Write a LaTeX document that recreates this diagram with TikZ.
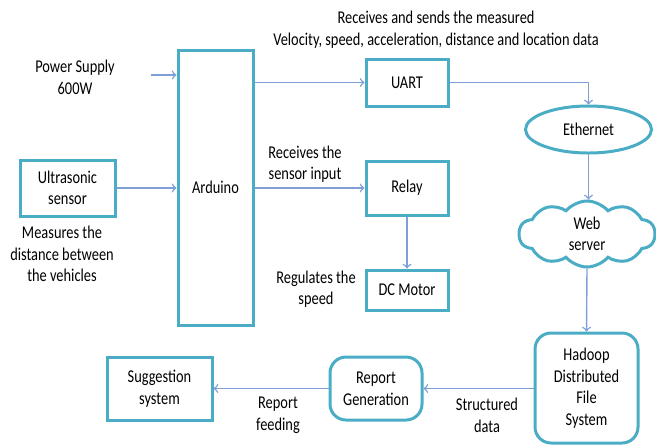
\documentclass[tikz,border=0pt]{standalone}
\usepackage{fontspec}
\setmainfont[FakeStretch=0.8]{Carlito}
\usetikzlibrary{arrows,shapes,shapes.symbols}

\definecolor{boxline}{HTML}{4BACC6}
\definecolor{arrline}{HTML}{7F9FD6}

\begin{document}
\begin{tikzpicture}
          [x=0.5pt,y=-0.5pt,
          font=\fontsize{9}{10.8}\selectfont,
          block/.style={rectangle,draw=boxline,line width=1.5pt,align=center,inner sep=2pt},
          roundblock/.style={block,rounded corners=8pt},
          note/.style={align=center,inner sep=0pt},
          link/.style={->,draw=arrline,line width=0.7pt}]
          \useasboundingbox (0,0) rectangle (656,446);
          % controller and its inputs
          \node[block,minimum width=37.5pt,minimum height=137.5pt] (ard) at (215.5,187.5) {Arduino};
          \node[block,minimum width=47.5pt,minimum height=28pt] (ultra) at (67.5,188) {Ultrasonic\\sensor};
          \node[note] (pow) at (75,77.5) {Power Supply\\600W};
          \node[note] (meas) at (62,254) {Measures the\\distance between\\the vehicles};
          % outputs of the controller
          \node[block,minimum width=41pt,minimum height=23.5pt] (uart) at (407,82.5) {UART};
          \node[block,minimum width=41pt,minimum height=27pt] (relay) at (407,188) {Relay};
          \node[block,minimum width=41pt,minimum height=20pt] (motor) at (407,290) {DC Motor};
          \node[note] (sends) at (436,29.5) {Receives and sends the measured\\Velocity, speed, acceleration, distance and location data};
          \node[note] (input) at (305,164) {Receives the\\sensor input};
          \node[note] (reg) at (316,289) {Regulates the\\speed};
          % network side
          \node[ellipse,draw=boxline,line width=1.5pt,minimum width=63pt,minimum height=23.5pt] (eth) at (588.5,129.5) {Ethernet};
          \node[cloud,cloud puffs=10,cloud puff arc=100,draw=boxline,line width=1.5pt,minimum width=68pt,minimum height=33pt,align=center,inner sep=0pt] (web) at (587,234) {Web\\server};
          \node[roundblock,minimum width=51.5pt,minimum height=55pt] (hdfs) at (586.5,388) {Hadoop\\Distributed\\File\\System};
          \node[roundblock,minimum width=46pt,minimum height=31.5pt] (report) at (376,388.5) {Report\\Generation};
          \node[block,minimum width=52.5pt,minimum height=31.5pt] (sugg) at (159.5,388.5) {Suggestion\\system};
          \node[note] (struct) at (487,415) {Structured\\data};
          \node[note] (feed) at (278,415) {Report\\feeding};
          % connections
          \draw[link] ([xshift=18pt]pow.east |- 0,75) -- (ard.west |- 0,75);
          \draw[link] (ultra.east) -- (ultra -| ard.west);
          \draw[link] (ard.east |- uart.west) -- (uart.west);
          \draw[link] (ard.east |- relay.west) -- (relay.west);
          \draw[link] (relay.south) -- (motor.north);
          \draw[link] (uart.east) -| (eth.north);
          \draw[link] (eth.south) -- (eth.south |- web.north);
          \draw[link] (web.south) -- (hdfs.north);
          \draw[link] (hdfs.west |- report) -- (report.east);
          \draw[link] (report.west) -- (sugg.east);
        \end{tikzpicture}
\end{document}
